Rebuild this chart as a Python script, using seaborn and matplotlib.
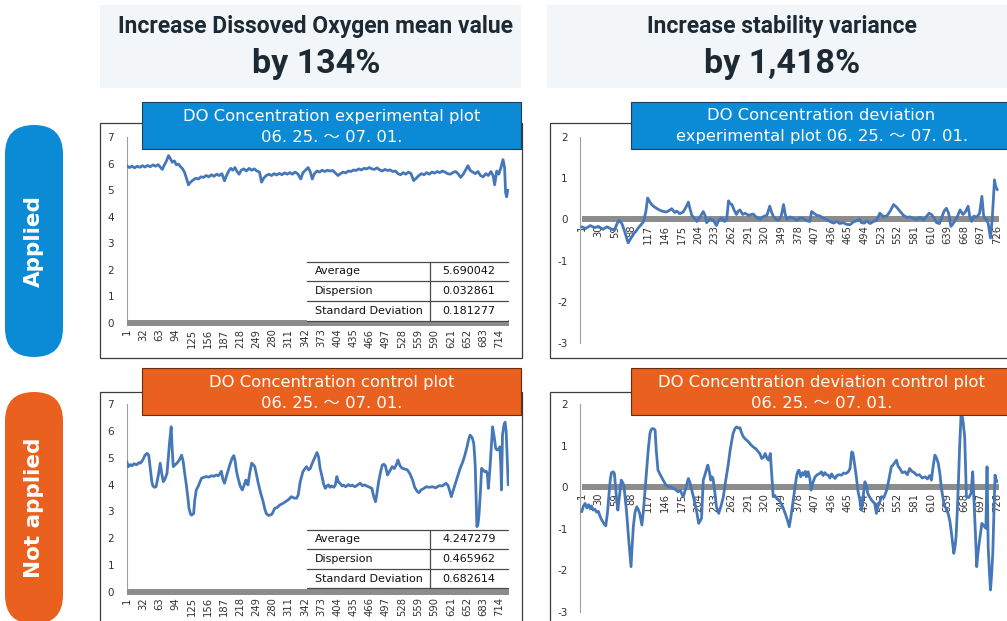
import matplotlib
matplotlib.use('Agg')
import matplotlib.pyplot as plt
from matplotlib.patches import Rectangle, FancyBboxPatch
from matplotlib.lines import Line2D
import seaborn as sns

sns.set_style('white')
plt.rcParams['font.family'] = ['DejaVu Sans', 'Noto Sans CJK KR']

# ---- data ------------------------------------------------------------------
exp_ticks = [1, 32, 63, 94, 125, 156, 187, 218, 249, 280, 311, 342, 373, 404,
             435, 466, 497, 528, 559, 590, 621, 652, 683, 714]
dev_ticks = [1, 30, 59, 88, 117, 146, 175, 204, 233, 262, 291, 320, 349, 378,
             407, 436, 465, 494, 523, 552, 581, 610, 639, 668, 697, 726]

# DO concentration, experimental plot (applied)
exp_idx = [
    1, 6, 11, 16, 21, 26, 31, 36, 41, 46,
    51, 56, 61, 66, 69, 73, 77, 81, 84, 88,
    92, 96, 100, 104, 108, 112, 116, 119, 123, 128,
    133, 138, 143, 148, 153, 158, 163, 168, 173, 178,
    183, 188, 192, 196, 200, 204, 208, 212, 216, 220,
    225, 230, 235, 240, 245, 250, 255, 259, 263, 268,
    273, 278, 283, 288, 293, 298, 303, 308, 313, 318,
    323, 328, 334, 338, 343, 348, 352, 356, 360, 365,
    370, 375, 380, 385, 390, 395, 400, 405, 410, 415,
    420, 425, 430, 435, 440, 445, 450, 455, 460, 465,
    470, 475, 480, 485, 490, 495, 500, 505, 510, 515,
    520, 525, 530, 535, 540, 545, 550, 555, 560, 565,
    570, 575, 580, 585, 590, 595, 600, 605, 610, 615,
    620, 625, 630, 635, 640, 645, 650, 654, 658, 663,
    668, 673, 678, 683, 688, 693, 698, 702, 705, 709,
    713, 717, 721, 724, 726, 728, 730]
exp_do = [
    5.92, 5.85, 5.90, 5.84, 5.90, 5.86, 5.92, 5.87, 5.93, 5.88,
    5.95, 5.90, 5.96, 5.85, 5.78, 5.95, 6.10, 6.30, 6.20, 6.05,
    6.10, 5.95, 5.98, 5.88, 5.80, 5.65, 5.40, 5.20, 5.30, 5.38,
    5.45, 5.42, 5.50, 5.48, 5.55, 5.50, 5.58, 5.52, 5.60, 5.55,
    5.62, 5.35, 5.55, 5.72, 5.82, 5.75, 5.85, 5.70, 5.60, 5.75,
    5.80, 5.72, 5.82, 5.75, 5.80, 5.72, 5.68, 5.30, 5.45, 5.55,
    5.60, 5.55, 5.62, 5.57, 5.63, 5.58, 5.65, 5.60, 5.66, 5.60,
    5.68, 5.62, 5.42, 5.65, 5.75, 5.85, 5.70, 5.42, 5.62, 5.72,
    5.68, 5.75, 5.70, 5.75, 5.72, 5.74, 5.65, 5.55, 5.62, 5.68,
    5.65, 5.72, 5.70, 5.76, 5.74, 5.80, 5.76, 5.82, 5.80, 5.85,
    5.80, 5.78, 5.84, 5.76, 5.72, 5.78, 5.74, 5.76, 5.70, 5.72,
    5.62, 5.58, 5.66, 5.60, 5.68, 5.62, 5.36, 5.45, 5.55, 5.62,
    5.58, 5.66, 5.60, 5.68, 5.64, 5.70, 5.66, 5.72, 5.68, 5.62,
    5.60, 5.66, 5.70, 5.62, 5.48, 5.60, 5.78, 5.92, 5.75, 5.68,
    5.62, 5.70, 5.55, 5.50, 5.62, 5.55, 5.70, 5.55, 5.20, 5.72,
    5.60, 5.85, 6.15, 5.85, 4.90, 4.75, 5.00]

# DO concentration deviation, experimental plot
exp_dev_idx = [
    1, 8, 16, 23, 30, 38, 45, 52, 58, 62,
    66, 71, 76, 82, 87, 91, 96, 100, 105, 109,
    113, 116, 120, 123, 128, 135, 141, 149, 154, 158,
    163, 167, 172, 178, 183, 187, 190, 193, 198, 202,
    207, 213, 216, 219, 225, 231, 236, 240, 245, 250,
    254, 257, 260, 263, 267, 271, 274, 277, 282, 286,
    292, 300, 306, 312, 318, 324, 329, 332, 335, 340,
    344, 349, 353, 356, 359, 364, 370, 376, 382, 388,
    393, 399, 402, 406, 411, 417, 422, 428, 434, 440,
    446, 451, 457, 463, 469, 475, 481, 486, 489, 494,
    498, 504, 510, 515, 521, 527, 533, 539, 545, 550,
    556, 562, 568, 574, 580, 586, 591, 597, 603, 607,
    611, 616, 620, 625, 629, 633, 637, 641, 645, 649,
    655, 661, 666, 670, 675, 678, 681, 685, 690, 695,
    699, 702, 704, 707, 710, 714, 717, 719, 721, 723, 726]
exp_dev = [
    -0.18, -0.22, -0.15, -0.20, -0.17, -0.24, -0.18, -0.23, -0.27, -0.12,
    -0.02, -0.10, -0.30, -0.57, -0.45, -0.36, -0.28, -0.20, -0.12, -0.05,
    0.20, 0.52, 0.42, 0.36, 0.30, 0.24, 0.20, 0.18, 0.22, 0.26,
    0.17, 0.20, 0.14, 0.18, 0.30, 0.42, 0.25, 0.10, 0.02, -0.05,
    0.05, 0.19, 0.10, -0.08, 0.02, -0.03, -0.15, -0.02, 0.03, -0.05,
    0.00, 0.45, 0.38, 0.36, 0.22, 0.12, 0.20, 0.23, 0.12, 0.15,
    0.10, 0.13, 0.05, 0.00, 0.07, 0.10, 0.32, 0.18, 0.08, 0.00,
    -0.02, 0.08, 0.36, 0.12, 0.00, 0.06, 0.03, -0.02, 0.04, 0.02,
    -0.03, -0.05, 0.19, 0.15, 0.10, 0.08, 0.03, 0.00, -0.05, -0.09,
    -0.05, -0.10, -0.08, -0.12, -0.13, -0.06, -0.03, 0.00, -0.08, -0.09,
    -0.04, -0.10, -0.05, -0.03, 0.15, 0.07, 0.08, 0.20, 0.36, 0.30,
    0.20, 0.10, 0.05, 0.06, 0.02, 0.00, 0.05, -0.02, 0.08, 0.15,
    0.12, 0.03, -0.08, -0.10, 0.05, 0.20, 0.27, 0.15, -0.17, -0.10,
    0.03, 0.23, 0.12, 0.18, 0.32, 0.05, -0.05, 0.08, 0.05, 0.15,
    0.56, 0.10, 0.02, 0.00, -0.10, -0.45, 0.00, 0.50, 0.96, 0.80, 0.72]

# DO concentration, control plot (not applied)
ctl_idx = [
    1, 4, 8, 11, 15, 20, 24, 27, 31, 36,
    40, 43, 46, 49, 51, 54, 57, 61, 65, 68,
    71, 74, 78, 81, 83, 86, 88, 90, 94, 97,
    101, 106, 109, 112, 115, 118, 120, 123, 125, 129,
    131, 134, 138, 141, 144, 148, 153, 158, 163, 168,
    172, 176, 179, 182, 185, 188, 193, 198, 201, 204,
    206, 208, 211, 214, 218, 222, 225, 229, 231, 233,
    236, 240, 243, 246, 249, 252, 257, 262, 265, 268,
    272, 275, 279, 284, 289, 294, 300, 307, 311, 316,
    321, 326, 329, 333, 338, 342, 345, 349, 352, 356,
    360, 365, 368, 371, 374, 378, 381, 384, 387, 390,
    393, 397, 400, 403, 406, 409, 413, 416, 420, 425,
    429, 433, 437, 441, 445, 448, 452, 456, 461, 466,
    470, 473, 477, 480, 483, 487, 490, 493, 496, 500,
    504, 509, 513, 517, 520, 524, 528, 533, 538, 543,
    548, 552, 557, 560, 564, 569, 574, 580, 586, 592,
    599, 605, 612, 616, 620, 622, 626, 629, 634, 639,
    644, 648, 652, 655, 658, 662, 665, 667, 668, 670,
    671, 673, 675, 678, 680, 683, 686, 689, 691, 693,
    696, 698, 701, 704, 707, 710, 713, 715, 717, 718,
    720, 723, 725, 727, 729, 731]
ctl_do = [
    4.86, 4.67, 4.75, 4.70, 4.78, 4.74, 4.82, 4.80, 4.90, 5.10,
    5.17, 5.10, 4.61, 4.10, 3.95, 3.90, 3.92, 4.30, 4.80, 4.40,
    4.11, 4.20, 4.42, 5.10, 5.60, 6.16, 5.30, 4.67, 4.75, 4.80,
    4.90, 5.10, 4.86, 4.40, 3.99, 3.50, 3.12, 2.90, 2.86, 2.92,
    3.40, 3.80, 3.95, 4.10, 4.24, 4.27, 4.30, 4.28, 4.33, 4.31,
    4.36, 4.33, 4.40, 4.50, 4.20, 4.05, 4.40, 4.73, 4.90, 5.04,
    5.08, 4.92, 4.50, 4.24, 3.95, 3.80, 3.95, 4.17, 4.05, 3.99,
    4.40, 4.80, 4.75, 4.67, 4.40, 4.11, 3.70, 3.36, 3.10, 2.92,
    2.85, 2.86, 2.90, 3.11, 3.15, 3.24, 3.30, 3.39, 3.45, 3.55,
    3.50, 3.49, 3.61, 4.11, 4.48, 4.60, 4.67, 4.55, 4.60, 4.80,
    4.98, 5.20, 5.04, 4.60, 4.36, 4.00, 3.86, 3.95, 3.99, 3.90,
    3.95, 3.90, 3.97, 4.30, 4.10, 4.05, 3.95, 3.98, 3.92, 4.00,
    3.95, 3.98, 3.92, 3.96, 4.02, 4.05, 3.96, 3.99, 3.94, 3.90,
    3.86, 3.60, 3.36, 3.70, 4.11, 4.50, 4.73, 4.76, 4.70, 4.36,
    4.50, 4.67, 4.60, 4.75, 4.92, 4.70, 4.61, 4.58, 4.55, 4.40,
    4.17, 3.90, 3.74, 3.70, 3.80, 3.85, 3.92, 3.90, 3.92, 3.88,
    3.96, 3.95, 4.05, 3.96, 3.70, 3.55, 3.80, 3.99, 4.30, 4.61,
    4.85, 5.10, 5.40, 5.67, 5.85, 5.75, 5.54, 5.00, 4.61, 3.20,
    2.43, 2.50, 2.86, 3.80, 4.61, 4.55, 4.48, 4.50, 4.40, 3.86,
    4.60, 5.23, 6.16, 5.80, 5.35, 5.29, 5.35, 5.41, 4.60, 3.80,
    5.85, 6.25, 6.33, 6.00, 5.00, 3.99]

# DO concentration deviation, control plot
ctl_dev_idx = [
    1, 4, 7, 10, 13, 16, 18, 21, 24, 27,
    30, 33, 36, 40, 43, 46, 49, 51, 53, 56,
    58, 60, 62, 64, 67, 70, 73, 75, 77, 79,
    83, 87, 89, 91, 94, 97, 100, 102, 106, 109,
    111, 114, 117, 120, 122, 124, 127, 129, 131, 134,
    138, 143, 148, 152, 157, 161, 165, 169, 173, 178,
    182, 187, 190, 193, 197, 201, 205, 208, 210, 213,
    216, 219, 221, 224, 226, 228, 230, 233, 236, 240,
    244, 248, 252, 256, 260, 265, 268, 271, 274, 277,
    280, 283, 287, 292, 296, 300, 305, 309, 312, 315,
    318, 321, 324, 327, 330, 333, 335, 338, 341, 344,
    347, 351, 356, 360, 363, 366, 370, 373, 376, 378,
    380, 383, 386, 388, 391, 393, 396, 399, 401, 404,
    408, 412, 416, 419, 422, 425, 428, 431, 434, 437,
    440, 443, 446, 450, 454, 458, 462, 466, 469, 472,
    474, 477, 480, 483, 486, 489, 492, 495, 498, 500,
    503, 506, 509, 512, 515, 518, 521, 524, 528, 533,
    537, 541, 545, 550, 553, 556, 560, 565, 569, 573,
    577, 581, 585, 590, 595, 600, 604, 608, 611, 614,
    617, 620, 623, 626, 628, 631, 634, 637, 640, 643,
    646, 648, 650, 652, 654, 656, 658, 660, 663, 666,
    669, 671, 672, 676, 680, 683, 686, 688, 690, 692,
    695, 699, 702, 706, 708, 710, 712, 714, 716, 718,
    720, 722, 725]
ctl_dev = [
    -0.59, -0.45, -0.39, -0.50, -0.42, -0.52, -0.45, -0.55, -0.53, -0.60,
    -0.58, -0.70, -0.79, -0.88, -0.93, -0.60, -0.10, 0.20, 0.35, 0.37,
    0.33, 0.00, -0.31, -0.55, -0.20, 0.17, 0.10, 0.00, -0.30, -0.55,
    -1.27, -1.91, -1.40, -0.95, -0.60, -0.47, -0.55, -0.63, -0.91, -0.50,
    -0.15, 0.37, 0.90, 1.29, 1.38, 1.41, 1.40, 1.37, 0.89, 0.41,
    0.30, 0.17, 0.05, 0.01, 0.00, -0.03, -0.06, -0.11, -0.08, -0.23,
    -0.05, 0.21, 0.10, -0.07, -0.30, -0.55, -0.87, -0.80, -0.75, 0.17,
    0.30, 0.45, 0.53, 0.35, 0.17, 0.25, 0.21, -0.10, -0.47, -0.63,
    -0.45, -0.23, 0.15, 0.49, 0.90, 1.29, 1.40, 1.45, 1.42, 1.43,
    1.30, 1.21, 1.15, 1.09, 1.02, 0.97, 0.92, 0.85, 0.80, 0.69,
    0.72, 0.81, 0.70, 0.65, 0.81, 0.20, -0.23, -0.20, -0.27, -0.30,
    -0.35, -0.45, -0.63, -0.80, -0.95, -0.70, -0.31, 0.00, 0.29, 0.38,
    0.41, 0.25, 0.35, 0.29, 0.38, 0.25, 0.37, 0.20, -0.07, 0.10,
    0.25, 0.30, 0.33, 0.37, 0.28, 0.35, 0.30, 0.29, 0.22, 0.32,
    0.25, 0.21, 0.28, 0.30, 0.29, 0.34, 0.33, 0.37, 0.45, 0.85,
    0.82, 0.55, 0.25, -0.10, -0.30, -0.55, -0.20, 0.13, 0.00, -0.15,
    -0.23, -0.30, -0.35, -0.39, -0.63, -0.45, -0.35, -0.23, -0.25, -0.07,
    0.20, 0.49, 0.55, 0.65, 0.50, 0.45, 0.35, 0.37, 0.30, 0.45,
    0.38, 0.35, 0.29, 0.30, 0.22, 0.25, 0.20, 0.28, 0.17, 0.50,
    0.77, 0.70, 0.57, 0.30, 0.01, -0.25, -0.47, -0.50, -0.63, -0.80,
    -1.11, -1.35, -1.59, -1.45, -1.19, -0.60, 0.09, 0.90, 1.85, 1.60,
    1.21, 0.30, -0.23, -0.25, -0.15, 0.37, -0.55, -1.20, -1.91, -1.60,
    -1.27, -0.87, -0.92, -0.99, 0.49, -1.43, -2.00, -2.47, -2.10, -1.59,
    -0.60, 0.29, 0.13]

stat_names = ['Average', 'Dispersion', 'Standard Deviation']
exp_stats = ['5.690042', '0.032861', '0.181277']
ctl_stats = ['4.247279', '0.465962', '0.682614']

BLUE = '#0b8ad6'
ORANGE = '#ea611f'
LINE = '#4677b8'
GREY_BAR = '#8c8c8c'

# ---- figure, laid out in pixel coordinates (origin top left) ---------------
W, H = 1007, 621
fig = plt.figure(figsize=(W / 100, H / 100), dpi=100)
fig.patch.set_facecolor('white')
T = fig.dpi_scale_trans


def rect(x0, y0, x1, y1, **kw):
    fig.add_artist(Rectangle((x0 / 100, (H - y1) / 100), (x1 - x0) / 100,
                             (y1 - y0) / 100, transform=T, **kw))


def text(x, y, s, **kw):
    fig.text(x / 100, (H - y) / 100, s, transform=T, **kw)


def hline(x0, x1, y, **kw):
    fig.add_artist(Line2D([x0 / 100, x1 / 100], [(H - y) / 100] * 2, transform=T, **kw))


def vline(x, y0, y1, **kw):
    fig.add_artist(Line2D([x / 100] * 2, [(H - y0) / 100, (H - y1) / 100], transform=T, **kw))


def axes_at(x0, y0, x1, y1):
    return fig.add_axes([x0 / W, 1 - y1 / H, (x1 - x0) / W, (y1 - y0) / H])


# header boxes
hdr_font = ['Roboto', 'DejaVu Sans']
rect(100, 5, 521, 88, facecolor='#f3f6f9', edgecolor='none')
rect(547, 5, 1012, 88, facecolor='#f3f6f9', edgecolor='none')
text(316, 27, 'Increase Dissoved Oxygen mean value', ha='center', va='center',
     fontsize=16.5, fontweight='bold', color='#1d2a33', family=hdr_font)
text(316, 64, 'by 134%', ha='center', va='center', fontsize=24.5,
     fontweight='bold', color='#1d2a33', family=hdr_font)
text(782, 27, 'Increase stability variance', ha='center', va='center',
     fontsize=16.5, fontweight='bold', color='#1d2a33', family=hdr_font)
text(782, 64, 'by 1,418%', ha='center', va='center', fontsize=24.5,
     fontweight='bold', color='#1d2a33', family=hdr_font)

# side pills
for (y0, y1, col, lab) in [(125, 357, BLUE, 'Applied'), (392, 624, ORANGE, 'Not applied')]:
    fig.add_artist(FancyBboxPatch((5 / 100, (H - y1) / 100), 58 / 100, (y1 - y0) / 100,
                                  boxstyle='round,pad=0,rounding_size=0.29',
                                  transform=T, facecolor=col, edgecolor='none'))
    text(34, (y0 + y1) / 2, lab, rotation=90, ha='center', va='center',
         color='white', fontsize=15.5, fontweight='bold')

# panel frames
for (x0, y0, x1, y1) in [(100, 123, 522, 358), (550, 123, 1015, 358),
                         (100, 392, 522, 630), (550, 392, 1015, 630)]:
    rect(x0, y0, x1, y1, facecolor='none', edgecolor='#3c3c3c', linewidth=0.9)


def style(ax, ylim, xlim, xticks, zero_axis):
    ax.set_xlim(*xlim)
    ax.set_ylim(*ylim)
    ax.patch.set_visible(False)
    ax.grid(False)
    for s in ('top', 'right'):
        ax.spines[s].set_visible(False)
    ax.spines['left'].set_color('#a0a0a0')
    ax.spines['left'].set_linewidth(0.8)
    ax.spines['bottom'].set_color(GREY_BAR)
    ax.spines['bottom'].set_linewidth(4.3)
    ax.spines['bottom'].set_capstyle('butt')
    if zero_axis:
        ax.spines['bottom'].set_position(('data', 0))
        ax.spines['bottom'].set_bounds(1, 729)
    yt = list(range(int(ylim[0]), int(ylim[1]) + 1))
    ax.set_yticks(yt)
    ax.set_yticklabels([str(t) for t in yt])
    ax.set_xticks(xticks)
    ax.set_xticklabels([str(t) for t in xticks], rotation=90)
    ax.tick_params(axis='y', length=3, width=0.8, color='#a0a0a0',
                   labelsize=7.5, labelcolor='#333333', pad=6)
    ax.tick_params(axis='x', length=0, labelsize=7.2, labelcolor='#333333', pad=4)
    ax.set_xlabel('')
    ax.set_ylabel('')


panels = [
    ((126.5, 137, 508.5, 323), exp_idx, exp_do, (0, 7), (0.5, 731.5), exp_ticks, False),
    ((580, 137, 1000, 343), exp_dev_idx, exp_dev, (-3, 2), (-2, 730.6), dev_ticks, True),
    ((126.5, 404.3, 508.5, 591.7), ctl_idx, ctl_do, (0, 7), (0.5, 731.5), exp_ticks, False),
    ((580, 404, 1000, 612), ctl_dev_idx, ctl_dev, (-3, 2), (-2, 730.6), dev_ticks, True),
]
for box, xs, ys, ylim, xlim, ticks, zero in panels:
    ax = axes_at(*box)
    sns.lineplot(x=xs, y=ys, ax=ax, color=LINE, linewidth=2, legend=False, zorder=3)
    style(ax, ylim, xlim, ticks, zero)

# title boxes
titles = [
    ((142, 102, 521, 149), BLUE, '#1d3f5e', 'DO Concentration experimental plot',
     '06. 25. ～ 07. 01.'),
    ((631, 102, 1012, 149), BLUE, '#1d3f5e', 'DO Concentration deviation',
     'experimental plot 06. 25. ～ 07. 01.'),
    ((142, 368, 521, 415), ORANGE, '#6b2c0c', 'DO Concentration control plot',
     '06. 25. ～ 07. 01.'),
    ((631, 368, 1012, 415), ORANGE, '#6b2c0c', 'DO Concentration deviation control plot',
     '06. 25. ～ 07. 01.'),
]
for (x0, y0, x1, y1), fc, ec, l1, l2 in titles:
    rect(x0, y0, x1, y1, facecolor=fc, edgecolor=ec, linewidth=0.8, zorder=5)
    cx = (x0 + x1) / 2
    text(cx, y0 + 14, l1, ha='center', va='center', color='white', fontsize=11.8, zorder=6)
    text(cx, y0 + 35, l2, ha='center', va='center', color='white', fontsize=11.8, zorder=6)


# statistics tables
def table(x0, xdiv, x1, ys, values):
    rect(x0, ys[0], x1, ys[-1], facecolor='white', edgecolor='none', zorder=3)
    for y in ys:
        hline(x0, x1, y, color='#4a4a4a', linewidth=0.9, zorder=4)
    vline(xdiv, ys[0], ys[-1], color='#4a4a4a', linewidth=0.9, zorder=4)
    for i, (name, val) in enumerate(zip(stat_names, values)):
        ym = (ys[i] + ys[i + 1]) / 2
        text(x0 + 8, ym, name, ha='left', va='center', fontsize=8, color='#111111', zorder=5)
        text((xdiv + x1) / 2, ym, val, ha='center', va='center', fontsize=8,
             color='#111111', zorder=5)


table(307, 430, 508, [262, 281, 301, 321], exp_stats)
table(307, 430, 508, [530, 549, 569, 588], ctl_stats)

fig.savefig('out.png', dpi=100, facecolor='white')
